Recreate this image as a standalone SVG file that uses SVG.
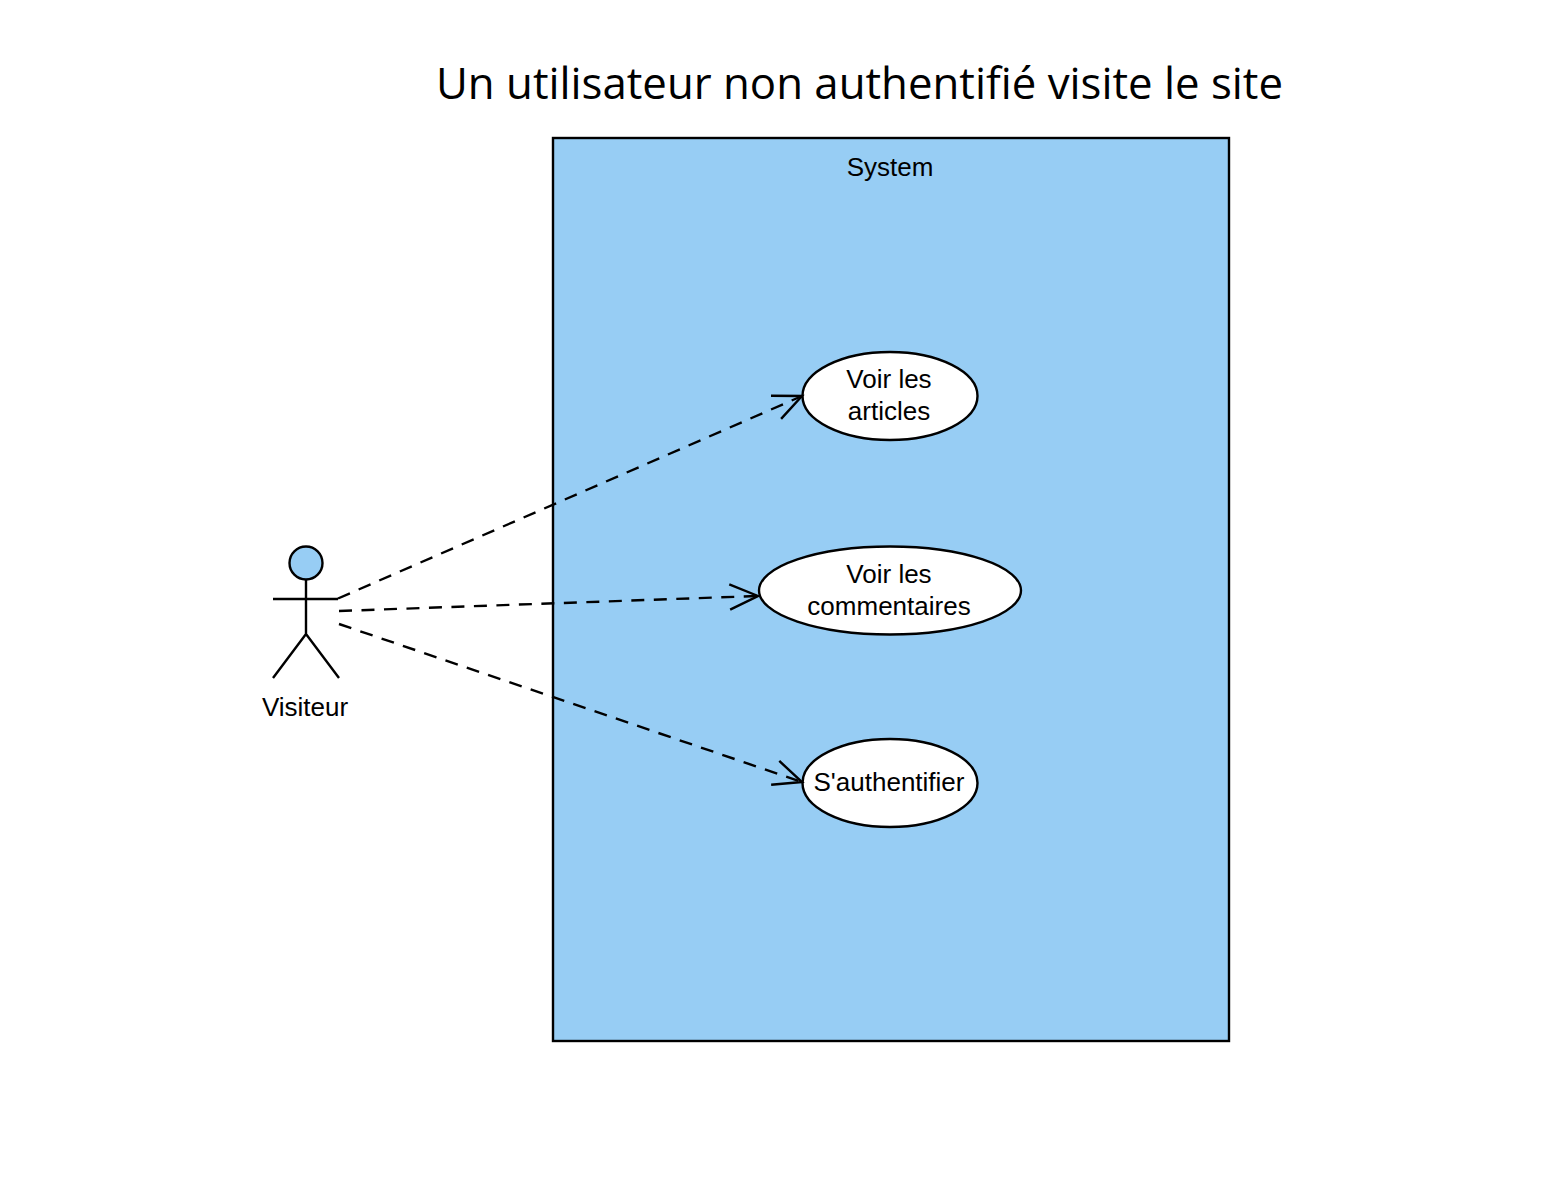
<svg xmlns="http://www.w3.org/2000/svg" width="1544" height="1197" viewBox="0 0 1544 1197">
<defs>
<marker id="open" markerUnits="userSpaceOnUse" markerWidth="36" markerHeight="36" refX="32" refY="18" orient="auto"><path d="M3.700 5.400 L32 18 L3.700 30.600" fill="none" stroke="#000" stroke-width="2.400"/></marker>
</defs>
<style>
text{font-family:"Liberation Sans",Arial,sans-serif;font-size:26px;fill:#000;text-anchor:middle}
.s{stroke:#000;stroke-width:2.400}
.l{fill:none}
.uc{fill:#fff}
.c{fill:none;stroke:#000;stroke-width:2.400;stroke-dasharray:13 9.500;marker-end:url(#open)}
</style>
<rect width="1544" height="1197" fill="#fff"/>
<text x="859.500" y="99" style="font-family:'Open Sans',sans-serif;font-size:43.750px">Un utilisateur non authentifié visite le site</text>
<g id="system"><rect class="s" x="553" y="138" width="676" height="903" fill="#97cdf4"/><text x="890" y="176">System</text></g>
<g id="visiteur"><circle class="s" cx="306" cy="563" r="16.500" fill="#97cdf4"/><path class="s l" d="M306 580V634M273 599H338M273 678L306 634L339 678"/><text x="305" y="716">Visiteur</text></g>
<g id="uc1"><ellipse class="s uc" cx="890" cy="396" rx="87.500" ry="44"/><text x="889" y="388">Voir les</text><text x="889" y="420">articles</text></g>
<g id="uc2"><ellipse class="s uc" cx="890" cy="590.500" rx="131" ry="44"/><text x="889" y="583">Voir les</text><text x="889" y="615">commentaires</text></g>
<g id="uc3"><ellipse class="s uc" cx="890" cy="783" rx="87.500" ry="44"/><text x="889" y="791">S'authentifier</text></g>
<g id="connectors">
<path class="c" d="M338 598.500L802 396"/>
<path class="c" d="M339 611L758 596"/>
<path class="c" d="M339 624L802 782"/>
</g>
</svg>
